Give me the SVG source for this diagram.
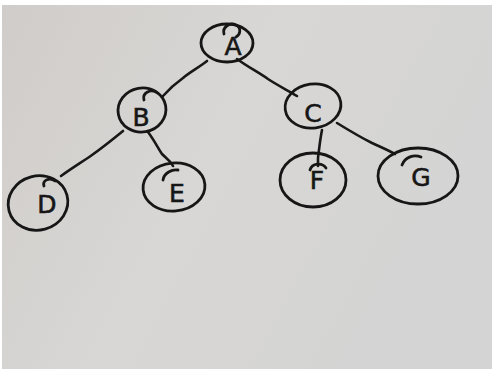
<svg xmlns="http://www.w3.org/2000/svg" width="492" height="372" viewBox="0 0 492 372">
  <defs>
    <linearGradient id="paper" x1="0" y1="0" x2="1" y2="0.4">
      <stop offset="0" stop-color="#d0ccc9"/>
      <stop offset="0.5" stop-color="#d8d7d5"/>
      <stop offset="1" stop-color="#d4d4d4"/>
    </linearGradient>
    <style>
      .ink { fill: none; stroke: #161616; stroke-width: 2.8; stroke-linecap: round; stroke-linejoin: round; }
      .edge { fill: none; stroke: #181818; stroke-width: 2.6; stroke-linecap: round; stroke-linejoin: round; }
      .lbl { font-family: "DejaVu Sans", "Liberation Sans", sans-serif; font-size: 25px; fill: #161616; stroke: #161616; stroke-width: 0.6; text-anchor: middle; dominant-baseline: central; }
    </style>
  </defs>

  <!-- paper -->
  <rect width="492" height="372" fill="#ffffff"/>
  <rect x="2" y="5" width="490" height="364" fill="url(#paper)"/>

  <!-- connectors -->
  <g id="edges">
    <path class="edge" d="M207,61 C198,68 190,72 183,78 C176,83 170,88 163,96"/>
    <path class="edge" d="M237,59 C248,67 258,72 268,79 C277,85 287,90 297,96"/>
    <path class="edge" d="M123,131 C112,140 102,148 92,155 C82,162 72,168 61,176"/>
    <path class="edge" d="M148,132 C154,140 158,148 162,154 C166,158 170,160 173,166"/>
    <path class="edge" d="M322,130 C320,140 319,150 318,158 L318,166"/>
    <path class="edge" d="M337,123 C350,131 362,138 372,143 C381,147 388,150 395,154"/>
  </g>

  <!-- nodes -->
  <g id="node-A">
    <ellipse class="ink" cx="227" cy="43" rx="26" ry="19"/>
    <path class="ink" d="M224,34 C222,27 230,22 236,25 C242,28 240,35 236,37"/>
    <text class="lbl" x="233" y="46" font-size="27">A</text>
  </g>
  <g id="node-B">
    <ellipse class="ink" cx="142" cy="110" rx="24" ry="22" transform="rotate(-10 142 110)"/>
    <path class="ink" d="M144,100 C142,93 150,89 156,92"/>
    <text class="lbl" x="141" y="117">B</text>
  </g>
  <g id="node-C">
    <ellipse class="ink" cx="313" cy="106" rx="28" ry="22" transform="rotate(-8 313 106)"/>
    <text class="lbl" x="313" y="113">C</text>
  </g>
  <g id="node-D">
    <ellipse class="ink" cx="38" cy="203" rx="30" ry="27" transform="rotate(-15 38 203)"/>
    <path class="ink" d="M44,186 C42,180 50,177 55,181"/>
    <text class="lbl" x="47" y="204">D</text>
  </g>
  <g id="node-E">
    <ellipse class="ink" cx="174" cy="187" rx="31" ry="24" transform="rotate(-5 174 187)"/>
    <path class="ink" d="M163,180 C164,173 172,169 178,170"/>
    <text class="lbl" x="177" y="193">E</text>
  </g>
  <g id="node-F">
    <ellipse class="ink" cx="313" cy="180" rx="33" ry="27"/>
    <path class="ink" d="M310,170 C312,163 322,162 326,168"/>
    <text class="lbl" x="317" y="180" font-size="28">F</text>
  </g>
  <g id="node-G">
    <ellipse class="ink" cx="418" cy="176" rx="40" ry="28"/>
    <path class="ink" d="M402,165 C405,157 414,154 421,157"/>
    <text class="lbl" x="421" y="177">G</text>
  </g>
</svg>
